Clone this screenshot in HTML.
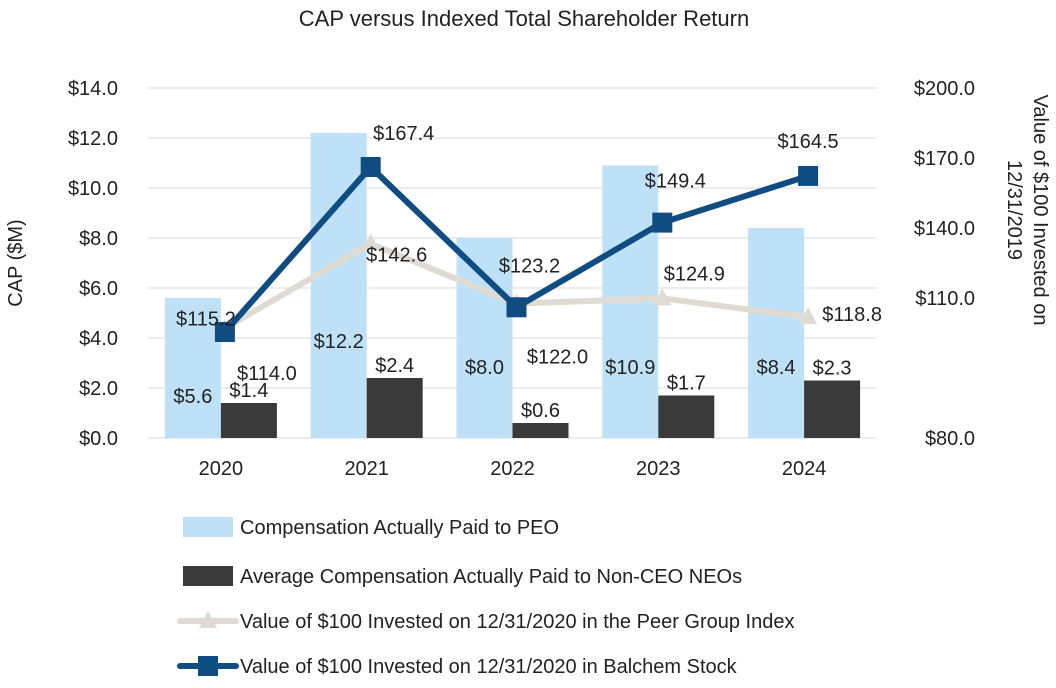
<!DOCTYPE html>
<html><head><meta charset="utf-8"><style>
html,body{margin:0;padding:0;background:#fff;}
svg{display:block;font-family:"Liberation Sans",sans-serif;}
</style></head><body>
<svg id="chart" width="1056" height="688" viewBox="0 0 1056 688" xmlns="http://www.w3.org/2000/svg">
<text x="524" y="26" font-size="22" text-anchor="middle" fill="#222">CAP versus Indexed Total Shareholder Return</text>
<text transform="translate(22,263) rotate(-90)" font-size="20" text-anchor="middle" fill="#222">CAP ($M)</text>
<text transform="translate(1034,210) rotate(90)" font-size="20" text-anchor="middle" fill="#222"><tspan x="0" dy="0">Value of $100 Invested on</tspan><tspan x="0" dy="26">12/31/2019</tspan></text>
<g id="grid"></g><g id="bars"></g><g id="lines"></g><g id="labels"></g><g id="axes"></g><g id="legend"></g>
</svg>
<script>
const categories = ["2020","2021","2022","2023","2024"];
const peoValues = [5.6,12.2,8.0,10.9,8.4];
const neoValues = [1.4,2.4,0.6,1.7,2.3];
const peerValues = [115.2,142.6,123.2,124.9,118.8];
const balchemValues = [114.0,167.4,122.0,149.4,164.5];
const leftTicks = [0,2,4,6,8,10,12,14];
const rightTickLabels = ["$200.0","$170.0","$140.0","$110.0","$80.0"];

const NS="http://www.w3.org/2000/svg";
const plotL=148, plotR=877, y0=438, yTop=88;
const catW=(plotR-plotL)/categories.length;
const xC=i=>plotL+catW*(i+0.5)+4;
const yL=v=>y0-(v/14)*(y0-yTop);
const yR=v=>332-3.09*(v-114);
function mk(tag,attrs,parent,text){const e=document.createElementNS(NS,tag);for(const k in attrs)e.setAttribute(k,attrs[k]);if(text!==undefined)e.textContent=text;document.getElementById(parent).appendChild(e);return e;}
const fmt=v=>"$"+v.toFixed(1);

leftTicks.forEach(t=>{
  const g=mk("line",{x1:plotL,x2:plotR,y1:yL(t),y2:yL(t),stroke:"#d9d9d9","stroke-width":1},"grid");
  
  
  const l=mk("text",{x:118,y:yL(t)+7,"font-size":20,"text-anchor":"end",fill:"#222"},"axes","$"+t.toFixed(1));
  
  
});
const rY=[88,158,228,298,438];
rightTickLabels.forEach((s,i)=>{
  const l=mk("text",{x:975,y:rY[i]+7,"font-size":20,"text-anchor":"end",fill:"#222"},"axes",s);
  
  
});
const peoLabelY=[403,348,374,374,374];
categories.forEach((c,i)=>{
  const bx=xC(i)-4;
  const l=mk("text",{x:bx,y:475,"font-size":20,"text-anchor":"middle",fill:"#222"},"axes",c);
  
  
  const b1=mk("rect",{x:bx-56,y:yL(peoValues[i]),width:56,height:y0-yL(peoValues[i]),fill:"#bfe1f7"},"bars");
  
  
  const b2=mk("rect",{x:bx,y:yL(neoValues[i]),width:56,height:y0-yL(neoValues[i]),fill:"#3a3a3a"},"bars");
  
  
  const t1=mk("text",{x:bx-28,y:peoLabelY[i],"font-size":20,"text-anchor":"middle",fill:"#222"},"labels",fmt(peoValues[i]));
  
  
  const t2=mk("text",{x:bx+28,y:yL(neoValues[i])-6,"font-size":20,"text-anchor":"middle",fill:"#222"},"labels",fmt(neoValues[i]));
  
  
});
function series(vals,color,w,marker,name){
  const pts=vals.map((v,i)=>xC(i)+","+yR(v)).join(" ");
  const p=mk("polyline",{points:pts,fill:"none",stroke:color,"stroke-width":w,"stroke-linejoin":"round"},"lines");
  
  
  vals.forEach((v,i)=>{
    let m;
    if(marker==="sq") m=mk("rect",{x:xC(i)-10,y:yR(v)-10,width:20,height:20,fill:color},"lines");
    else m=mk("polygon",{points:`${xC(i)},${yR(v)-10} ${xC(i)+9},${yR(v)+7} ${xC(i)-9},${yR(v)+7}`,fill:color},"lines");
    
    
  });
}
series(peerValues,"#e0dbd2",6,"tri","peer");
series(balchemValues,"#0f4c81",6,"sq","balchem");
const peerOff=[[-19,-3],[26,18],[13,-31],[32,-18],[44,4]];
const balOff=[[42,48],[33,-27],[41,56],[13,-35],[0,-28]];
peerValues.forEach((v,i)=>{
  const t=mk("text",{x:xC(i)+peerOff[i][0],y:yR(v)+peerOff[i][1],"font-size":20,"text-anchor":"middle",fill:"#222"},"labels",fmt(v));
  
  
});
balchemValues.forEach((v,i)=>{
  const t=mk("text",{x:xC(i)+balOff[i][0],y:yR(v)+balOff[i][1],"font-size":20,"text-anchor":"middle",fill:"#222"},"labels",fmt(v));
  
  
});
const leg=[["Compensation Actually Paid to PEO","peo",527],["Average Compensation Actually Paid to Non-CEO NEOs","neo",576],["Value of $100 Invested on 12/31/2020 in the Peer Group Index","peer",621],["Value of $100 Invested on 12/31/2020 in Balchem Stock","bal",666]];
leg.forEach(([s,k,y])=>{
  let sw;
  if(k==="peo") sw=mk("rect",{x:183,y:y-10,width:50,height:20,fill:"#bfe1f7"},"legend");
  else if(k==="neo") sw=mk("rect",{x:183,y:y-10,width:50,height:20,fill:"#3a3a3a"},"legend");
  else if(k==="peer"){sw=mk("line",{x1:180,x2:236,y1:y,y2:y,stroke:"#e0dbd2","stroke-width":6,"stroke-linecap":"round"},"legend");
    const m=mk("polygon",{points:`208,${y-10} 217,${y+7} 199,${y+7}`,fill:"#e0dbd2"},"legend");
    
    }
  else {sw=mk("line",{x1:180,x2:236,y1:y,y2:y,stroke:"#0f4c81","stroke-width":6,"stroke-linecap":"round"},"legend");
    const m=mk("rect",{x:198,y:y-10,width:20,height:20,fill:"#0f4c81"},"legend");
    
    }
  
  
  const t=mk("text",{x:240,y:y+7,"font-size":20,fill:"#222"},"legend",s);
  
  
});
</script>
</body></html>
